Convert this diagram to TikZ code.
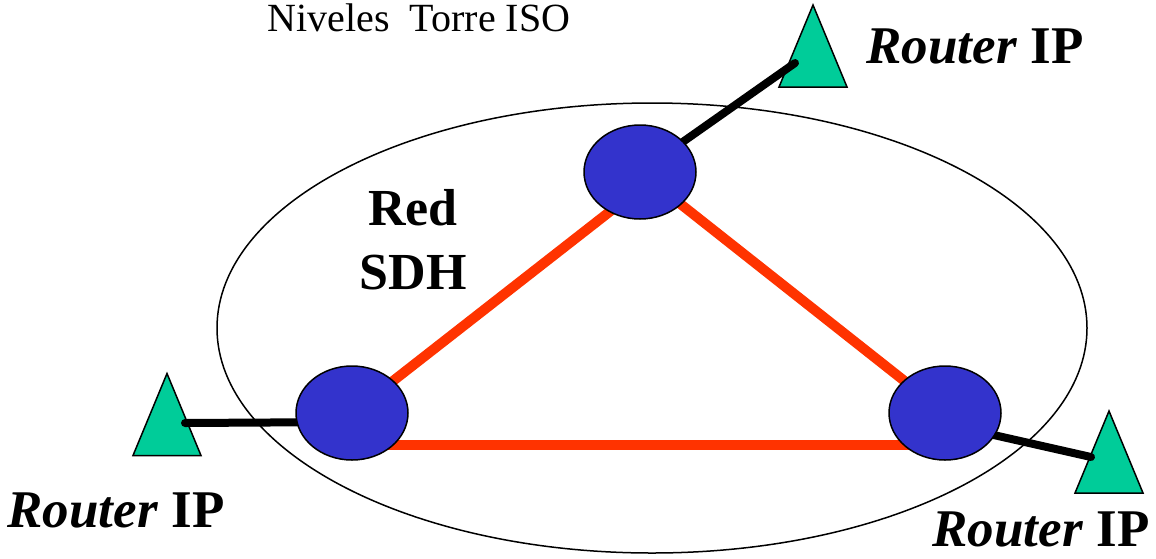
\documentclass[tikz,border=0pt]{standalone}
\usepackage{fontspec}
\setmainfont{Liberation Serif}
\usetikzlibrary{shapes.geometric, positioning, calc, backgrounds}
\definecolor{sdhBlue}{HTML}{3333CC}
\definecolor{ipGreen}{HTML}{00CC99}
\definecolor{ringRed}{HTML}{FF3300}
\tikzstyle{sdh} = [ellipse, 
			draw, 
			fill=sdhBlue, 
			line width=1.5pt, 
			minimum width=112pt, 
			minimum height=94pt, 
			inner sep=0pt]
\tikzstyle{router} = [draw, 
			fill=ipGreen, 
			line width=1.5pt, 
			line join=miter]
\tikzstyle{ring} = [draw=ringRed, line width=10pt]
\tikzstyle{link} = [draw, line width=8pt, line cap=round]
\tikzstyle{rtext} = [font=\fontsize{53}{60}\selectfont\bfseries, inner sep=0pt, text depth=0pt, anchor=base]

\begin{document}
\begin{tikzpicture}[x=1pt, y=-1pt]
	\useasboundingbox (0,0) rectangle (1156,558);
	\node [sdh] (sdhTop) at (640,172) {};
	\node [sdh] (sdhLeft) at (352,413) {};
	\node [sdh] (sdhRight) at (945,413) {};
	\coordinate (routerTop) at (813,46);
	\coordinate (routerLeft) at (167,414.5);
	\coordinate (routerRight) at (1109,452);
	\begin{scope}[on background layer]
		\draw [line width=1.5pt] (652,328) ellipse [x radius=435pt, y radius=225pt];
		% routers
		\foreach \r in {routerTop, routerLeft, routerRight}
			\path [router] ($(\r)+(0,-41)$) -- ++(34,82) -- ++(-68,0) -- cycle;
		\path [ring] ($(sdhTop.center)+(0,16)$) -- (sdhLeft.center);
		\path [ring] (sdhTop.center) -- (sdhRight.center);
		\path [ring] ($(sdhLeft.center)+(0,32)$) -- ($(sdhRight.center)+(0,32)$);
		\path [link] (sdhTop.center) -- ($(routerTop)+(-18,17)$);
		\path [link] ($(sdhLeft.center)+(0,9)$) -- ($(routerLeft)+(18,8.5)$);
		\path [link] ($(sdhRight.center)+(0,11)$) -- ($(routerRight)+(-18,5)$);
	\end{scope}
	\node [font=\fontsize{40}{48}\selectfont, inner sep=0pt, anchor=base] (title) at (419,31) {Niveles\ \ Torre ISO};
	\node [font=\fontsize{52}{64}\selectfont\bfseries, align=center] (redSdh) at (413,240) {Red\\SDH};
	\node [rtext] (ipTop) at (975,63) {\textit{Router} IP};
	\node [rtext] (ipLeft) at (116,527) {\textit{Router} IP};
	\node [rtext] (ipRight) at (1041,546) {\textit{Router} IP};
\end{tikzpicture}
\end{document}
